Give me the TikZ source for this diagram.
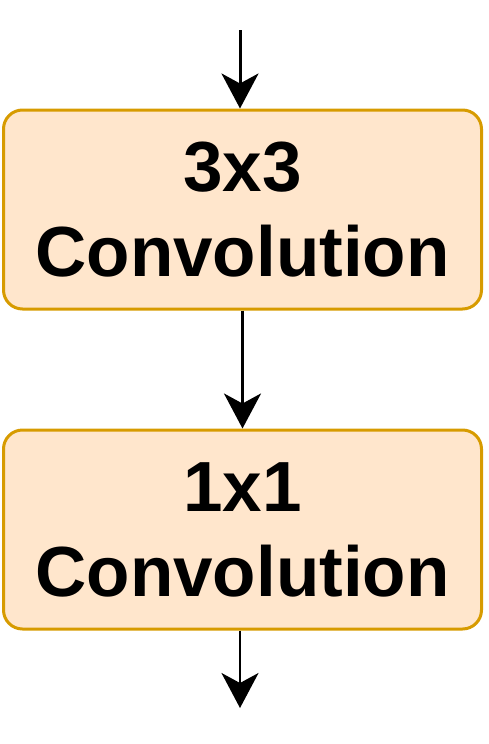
\documentclass[tikz,border=0pt]{standalone}
\usepackage{fontspec}
\setmainfont{Liberation Sans}
\usetikzlibrary{arrows.meta}
\definecolor{boxfill}{HTML}{FFE6CC}
\definecolor{boxdraw}{HTML}{D79B00}
\tikzset{
  convbox/.style={draw=boxdraw, fill=boxfill, line width=3pt, rounded corners=19pt,
    minimum width=478pt, minimum height=199pt, inner sep=0pt, align=center,
    font=\fontsize{71}{85}\selectfont\bfseries},
  flow/.style={line width=3pt, -{Stealth[length=35pt, width=37pt, inset=10pt]}},
}
\begin{document}
\begin{tikzpicture}[x=1pt,y=-1pt]
\useasboundingbox (0,0) rectangle (488,744);
\node[convbox] (b1) at (242.5,209.5) {3x3\\Convolution};
\node[convbox] (b2) at (242.5,529.5) {1x1\\Convolution};
\coordinate (top) at (240,30);
\coordinate (bot) at (240,708);
\draw[flow] (top) -- (top |- b1.north);
\draw[flow] (b1.south) -- (b2.north);
\draw[flow, line width=2.2pt] (bot |- b2.south) -- (bot);
\end{tikzpicture}
\end{document}
